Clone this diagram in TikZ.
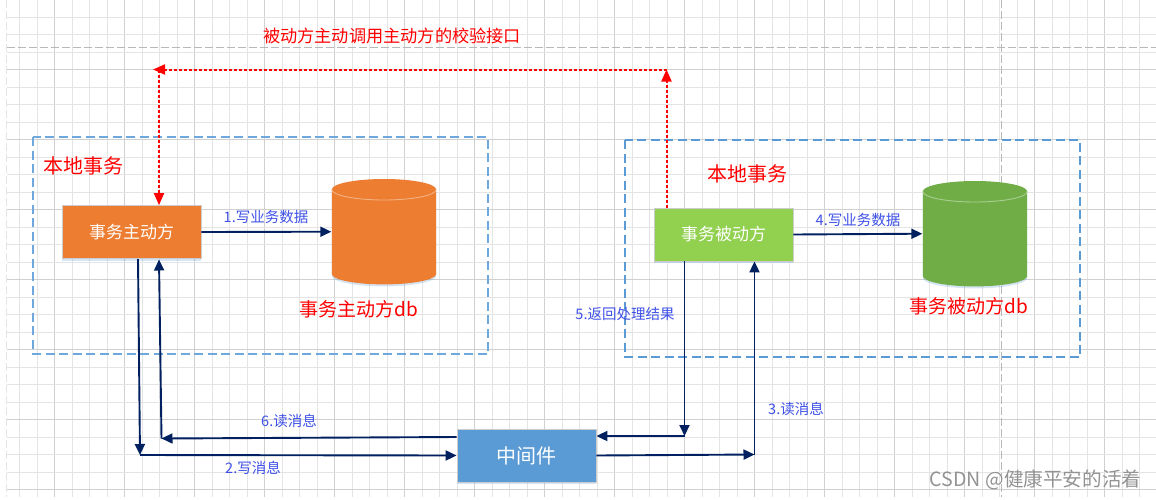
\documentclass[tikz,border=0pt]{standalone}
\usepackage{fontspec}
\setmainfont{Noto Sans CJK SC}
\usepackage{tikz}
\usetikzlibrary{arrows.meta,shadows}

\definecolor{gridlight}{HTML}{E4E4E4}
\definecolor{griddark}{HTML}{D0D0D0}
\definecolor{pageline}{HTML}{B8B8B8}
\definecolor{frameblue}{HTML}{6FA8DC}
\definecolor{flowblue}{HTML}{002060}
\definecolor{labelblue}{HTML}{3F51E8}
\definecolor{dborange}{HTML}{ED7D31}
\definecolor{dbgreen}{HTML}{70AD47}
\definecolor{boxgreen}{HTML}{92D050}
\definecolor{boxblue}{HTML}{5B9BD5}

\tikzset{
  softshadow/.style={drop shadow={shadow xshift=0pt,shadow yshift=-2pt,fill=boxblue,opacity=0.25}},
  framebox/.style={draw=#1,line width=1.1pt,dash pattern=on 9pt off 4.5pt},
  partybox/.style={fill=#1,draw=black!20,line width=0.8pt,text=white,minimum width=139pt,minimum height=53pt,
    inner sep=0pt,font=\fontsize{17}{17}\selectfont,softshadow},
  dbnode/.style={minimum width=105pt,minimum height=105pt,inner sep=0pt},
  flow/.style={draw=flowblue,line width=1.9pt,-{Triangle[length=11pt,width=10pt]}},
  callback/.style={draw=red,line width=2pt,dash pattern=on 3pt off 2pt,-{Triangle[length=12pt,width=10pt]}},
  redtext/.style={text=red,inner sep=0pt,font=\fontsize{#1}{#1}\selectfont},
  flowtext/.style={text=labelblue,inner sep=0pt,font=\fontsize{14.5}{15}\selectfont},
}

\begin{document}
\begin{tikzpicture}[x=1pt,y=-1pt]
  \useasboundingbox (0,0) rectangle (1156,499);
  \fill[white] (0,0) rectangle (1156,499);
  % grid
  \foreach \k in {0,...,64}
    {\pgfmathtruncatemacro{\m}{mod(\k,4)}
     \ifnum\m=2 \draw[griddark,line width=1pt] (19.5+17.5*\k,0) -- (19.5+17.5*\k,497);
     \else \draw[gridlight,line width=1pt] (19.5+17.5*\k,0) -- (19.5+17.5*\k,497); \fi}
  \foreach \k in {0,...,27}
    {\pgfmathtruncatemacro{\m}{mod(\k,4)}
     \ifnum\m=3 \draw[griddark,line width=1pt] (6.5,17+17.5*\k) -- (1156,17+17.5*\k);
     \else \draw[gridlight,line width=1pt] (6.5,17+17.5*\k) -- (1156,17+17.5*\k); \fi}
  % page breaks
  \draw[pageline,line width=1pt,dash pattern=on 8pt off 3pt] (6.5,47.5) -- (1156,47.5);
  \draw[pageline,line width=1pt,dash pattern=on 8pt off 3pt] (1001.5,0) -- (1001.5,497);
  \draw[gridlight,line width=1pt,dash pattern=on 8pt off 3pt] (6.5,0) -- (6.5,497);
  % frames
  \draw[framebox=frameblue] (33,137) rectangle (488,354);
  \draw[framebox=boxblue] (625,140) rectangle (1080,357);
  % parties
  \node[partybox=dborange] (active) at (131.5,232) {事务主动方};
  \node[partybox=boxgreen] (passive) at (723.5,234.5) {事务被动方};
  \node[partybox=boxblue,font=\fontsize{20}{20}\selectfont] (broker) at (526.5,455.5) {中间件};
  % databases
  \foreach \cx/\cy/\c/\n in {384/231.7/dborange/activedb, 975/233.7/dbgreen/passivedb}
    {\fill[\c,softshadow] (\cx-52.2,\cy-42.2) arc[start angle=180,end angle=0,x radius=52.2pt,y radius=10.5pt]
       -- (\cx+52.2,\cy+42.2) arc[start angle=0,end angle=-180,x radius=52.2pt,y radius=10.5pt] -- cycle;
     \draw[\c!60!white,line width=0.9pt] (\cx-52.2,\cy-42.2) arc[start angle=180,end angle=360,x radius=52.2pt,y radius=10.5pt];
     \node[dbnode] (\n) at (\cx,\cy) {};}
  % bends
  \coordinate (topright) at (666.5,69.5);
  \coordinate (topleft) at (153,69.5);
  \coordinate (topdrop) at (159,69.5);
  \coordinate (writebend) at (140,455);
  \coordinate (readbend) at (161.5,438.5);
  \coordinate (replybend) at (684.5,436);
  \coordinate (readright) at (754.5,454.5);
  % texts
  \node[redtext=17.2] (calltext) at (392,36) {被动方主动调用主动方的校验接口};
  \node[redtext=20] (localleft) at (83,166) {本地事务};
  \node[redtext=20] (localright) at (747,174) {本地事务};
  \node[redtext=19] (activelabel) at (358.5,309) {事务主动方db};
  \node[redtext=19] (passivelabel) at (968.5,306) {事务被动方db};
  \node[flowtext] (step1) at (266,217) {1.写业务数据};
  \node[flowtext] (step2) at (253,468) {2.写消息};
  \node[flowtext] (step3) at (796,409) {3.读消息};
  \node[flowtext] (step4) at (858,220) {4.写业务数据};
  \node[flowtext] (step5) at (625,314) {5.返回处理结果};
  \node[flowtext] (step6) at (289,421) {6.读消息};
  \node[text=gray!85,inner sep=0pt,font=\fontsize{19.6}{20}\selectfont] (mark) at (1035.5,480) {CSDN @健康平安的活着};
  % red call path
  \draw[callback] (passive.north -| topright) -- (topright);
  \draw[callback] (topright) -- (topleft);
  \draw[callback] (topdrop) -- (active.north -| topdrop);
  % flows
  \draw[flow] (active.east) -- (activedb.west);
  \draw[flow] (passive.east) -- (passivedb.west);
  \draw[flow] (138,259) -- (writebend);
  \draw[flow] (writebend) -- (broker.west);
  \draw[flow] (broker.west |- 0,437) -- (readbend);
  \draw[flow] (readbend) -- (159,259.5);
  \draw[flow] (passive.south -| replybend) -- (replybend);
  \draw[flow] (replybend) -- (broker.east |- replybend);
  \draw[flow] (broker.east) -- (readright);
  \draw[flow] (readright) -- (passive.south -| readright);
\end{tikzpicture}
\end{document}
